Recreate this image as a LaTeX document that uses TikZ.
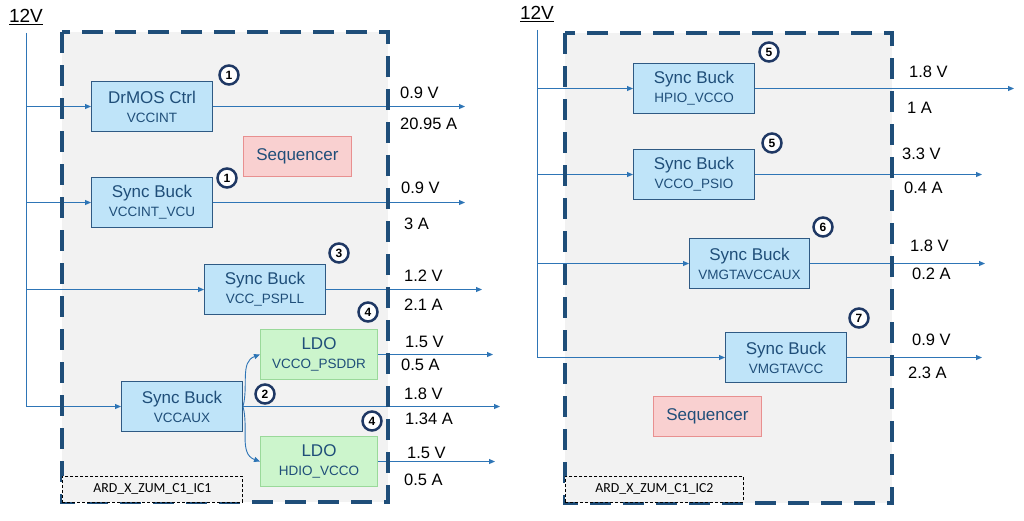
\documentclass[tikz,border=0pt]{standalone}
\usepackage{fontspec}
\setmainfont{Liberation Sans}
\newfontfamily\tagfont{Carlito}
\usepackage{xcolor}
\usetikzlibrary{arrows.meta, positioning, calc}

\definecolor{frameblue}{HTML}{1F4E79}
\definecolor{wireblue}{HTML}{2E75B6}
\definecolor{buckfill}{HTML}{BFE4F9}
\definecolor{buckline}{HTML}{2F5A84}
\definecolor{ldofill}{HTML}{CCF5CC}
\definecolor{ldoline}{HTML}{9AD99A}
\definecolor{seqfill}{HTML}{F9D0D0}
\definecolor{seqline}{HTML}{E89090}
\definecolor{panelgray}{HTML}{F2F2F2}
\definecolor{boxtext}{HTML}{1F4E79}
\definecolor{circline}{HTML}{1F3864}

\newcommand{\railname}[1]{\\{\fontsize{13.5}{15}\selectfont #1}}

\tikzset{
  panel/.style={draw=frameblue, line width=3.5pt, dash pattern=on 21pt off 12pt},
  conv/.style={draw=buckline, line width=1pt, anchor=north west, minimum height=50pt,
    inner sep=0pt, align=center, text=boxtext, font=\fontsize{17}{19}\selectfont},
  buck/.style={conv, fill=buckfill, minimum width=121pt},
  ldo/.style={conv, fill=ldofill, draw=ldoline, minimum width=117pt},
  seqbox/.style={draw=seqline, fill=seqfill, line width=0.8pt, anchor=north west,
    minimum width=108pt, minimum height=40pt, inner sep=0pt, text=boxtext,
    font=\fontsize{17}{19}\selectfont},
  num/.style={circle, draw=circline, fill=white, line width=2.5pt, minimum size=19pt,
    inner sep=0pt, font=\bfseries\fontsize{12}{12}\selectfont},
  bus/.style={draw=wireblue, line width=0.9pt},
  wire/.style={bus, -{Triangle[length=6pt,width=5pt]}},
  val/.style={anchor=west, inner sep=0pt, font=\fontsize{16.5}{18}\selectfont},
  vin/.style={inner sep=0pt, font=\fontsize{19}{20}\selectfont},
  tagbox/.style={draw=black, fill=panelgray, line width=0.8pt, dash pattern=on 3pt off 2pt,
    anchor=north west, minimum height=26pt, inner sep=0pt, font=\tagfont\fontsize{13.8}{15}\selectfont}
}

\begin{document}
\begin{tikzpicture}[x=1pt, y=-1pt]
  \useasboundingbox (0,0) rectangle (1024,520);
  \fill[panelgray] (62,32) rectangle (388,502);
  \fill[panelgray] (565,33) rectangle (892,503);

  % left regulator
  \node[vin] (vinL) at (26,17) {\underline{12V}};
  \node[buck] (drmos) at (91,81) {DrMOS Ctrl\railname{VCCINT}};
  \node[buck] (vcu) at (91,177) {Sync Buck\railname{VCCINT\_VCU}};
  \node[buck] (pll) at (204,264) {Sync Buck\railname{VCC\_PSPLL}};
  \node[ldo] (psddr) at (260,329) {LDO\railname{VCCO\_PSDDR}};
  \node[buck] (aux) at (121,381) {Sync Buck\railname{VCCAUX}};
  \node[ldo] (hdio) at (260,436) {LDO\railname{HDIO\_VCCO}};
  \node[seqbox] (seqL) at (243,136) {Sequencer};

  % right regulator
  \node[vin] (vinR) at (537,14) {\underline{12V}};
  \node[buck] (hpio) at (633,63) {Sync Buck\railname{HPIO\_VCCO}};
  \node[buck] (psio) at (633,149) {Sync Buck\railname{VCCO\_PSIO}};
  \node[buck, minimum width=120pt] (gtaux) at (689,238) {Sync Buck\railname{VMGTAVCCAUX}};
  \node[buck] (gtavcc) at (725,332) {Sync Buck\railname{VMGTAVCC}};
  \node[seqbox] (seqR) at (653,396) {Sequencer};

  \foreach \n/\x/\y/\t in {n1a/229/75/1, n1b/227/178/1, n3/339/253/3, n4a/368/312/4,
      n2/265/394/2, n4b/372/421/4, n5a/769/52/5, n5b/772/143/5, n6/823/227/6, n7/859/318/7}
    \node[num] (\n) at (\x,\y) {\t};

  % inputs
  \draw[bus] ([yshift=-8pt]vinL.south) -- (vinL |- aux.west);
  \foreach \n in {drmos, vcu, pll, aux}
    \draw[wire] (vinL |- \n.west) -- (\n.west);
  \draw[bus] ([yshift=-8pt]vinR.south) -- (vinR |- gtavcc.west);
  \foreach \n in {hpio, psio, gtaux, gtavcc}
    \draw[wire] (vinR |- \n.west) -- (\n.west);

  % outputs
  \foreach \n/\x in {drmos/465, vcu/465, pll/482, psddr/493, aux/500, hdio/495,
      hpio/1014, psio/982, gtaux/985, gtavcc/982} {
    \coordinate (\n-x) at (\x,0);
    \draw[wire] (\n.east) -- (\n.east -| \n-x);
  }
  \draw[wire] (aux.east) to[out=75, in=200] (psddr.west);
  \draw[wire] (aux.east) to[out=-75, in=160] (hdio.west);

  \draw[panel] (62,32) rectangle (388,502);
  \draw[panel] (565,33) rectangle (892,503);
  \node[tagbox, minimum width=180pt] (tagL) at (62,476) {ARD\_X\_ZUM\_C1\_IC1};
  \node[tagbox, minimum width=178pt] (tagR) at (565,476) {ARD\_X\_ZUM\_C1\_IC2};

  \foreach \x/\y/\t [count=\i] in {400/93/0.9 V, 400/124/20.95 A, 401/188/0.9 V, 404/224/3 A,
      404/276/1.2 V, 404/305/2.1 A, 405/342/1.5 V, 401/365/0.5 A, 404/394/1.8 V,
      405/419/1.34 A, 407/453/1.5 V, 404/480/0.5 A,
      909/72/1.8 V, 907/108/1 A, 902/154/3.3 V, 904/188/0.4 A, 910/246/1.8 V,
      912/274/0.2 A, 912/340/0.9 V, 908/373/2.3 A}
    \node[val] (val\i) at (\x,\y) {\t};
\end{tikzpicture}
\end{document}
